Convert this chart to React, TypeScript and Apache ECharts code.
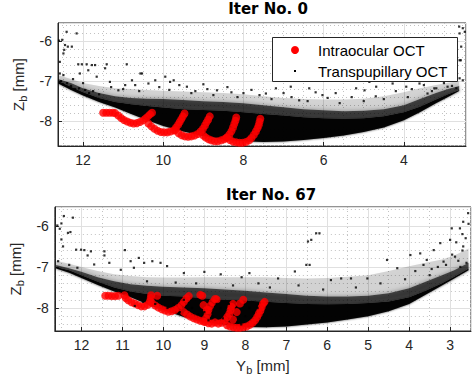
import React, { useEffect, useRef } from 'react';
import * as echarts from 'echarts';

// ---------- Panel 1: Iter No. 0 ----------
// Dense transpupillary cloud, outlined by sample columns (Y_b): lower edge, solid-core top, speckled top, sparse top
const topBandX = [12.62, 12.3, 12.0, 11.6, 11.2, 10.8, 10.4, 10.0, 9.5, 9.0, 8.5, 8.0, 7.5, 7.0, 6.5, 6.0, 5.5, 5.0, 4.5, 4.0, 3.6, 3.2, 2.9, 2.62];
const topBandLow = [-7.06, -7.22, -7.36, -7.52, -7.66, -7.82, -7.98, -8.12, -8.26, -8.37, -8.45, -8.5, -8.52, -8.51, -8.47, -8.42, -8.36, -8.27, -8.16, -7.98, -7.78, -7.55, -7.4, -7.25];
const topBandCore = [-7.0, -7.14, -7.28, -7.42, -7.52, -7.58, -7.62, -7.66, -7.7, -7.72, -7.74, -7.78, -7.82, -7.86, -7.9, -7.93, -7.94, -7.93, -7.88, -7.78, -7.64, -7.46, -7.33, -7.22];
const topBandMid = [-6.95, -7.05, -7.18, -7.3, -7.38, -7.42, -7.44, -7.45, -7.47, -7.5, -7.52, -7.55, -7.6, -7.65, -7.7, -7.73, -7.75, -7.74, -7.7, -7.6, -7.45, -7.3, -7.2, -7.12];
const topBandTop = [-6.85, -6.95, -7.05, -7.12, -7.18, -7.2, -7.22, -7.24, -7.26, -7.28, -7.3, -7.33, -7.38, -7.42, -7.45, -7.46, -7.46, -7.44, -7.38, -7.28, -7.18, -7.1, -7.04, -7.0];
const topTranspupillary = [
  [12.41, -5.77], [12.16, -5.81], [12.6, -5.99], [12.52, -5.97], [12.45, -6.1], [12.38, -6.14], [12.28, -6.14],
  [12.47, -6.22], [12.49, -6.31], [12.58, -6.52], [12.12, -6.58], [12.03, -6.58], [11.91, -6.58], [11.78, -6.6],
  [11.7, -6.6], [11.45, -6.68], [11.41, -6.58], [10.91, -6.58], [11.87, -6.73], [12.58, -6.81], [12.49, -6.85],
  [12.08, -6.81], [11.66, -6.89], [11.33, -7.02], [10.95, -7.1], [10.78, -6.98], [10.53, -6.81], [10.37, -7.06],
  [10.2, -6.98], [9.95, -6.89], [9.83, -7.02], [10.7, -7.1], [11.12, -7.23], [10.57, -6.81], [9.74, -6.98],
  [9.41, -7.14], [8.66, -7.23], [7.19, -7.18], [6.82, -7.14], [6.36, -7.18], [6.03, -7.35], [5.53, -6.98],
  [5.19, -7.18], [4.98, -7.23], [4.86, -7.02], [4.69, -7.14], [4.44, -6.89], [4.28, -7.06], [3.94, -7.14],
  [3.61, -7.06], [3.36, -6.85], [3.19, -7.18], [2.94, -6.89], [2.78, -6.98], [2.69, -7.18], [2.61, -6.48],
  [2.57, -6.14], [2.53, -5.68], [2.48, -5.77], [2.61, -5.81], [2.61, -6.93], [7.44, -7.31], [6.61, -7.48],
  [2.62, -5.64], [2.58, -6.48], [2.53, -6.98], [2.91, -7.14], [3.24, -7.18], [3.41, -7.31],
  [12.55, -7.0], [12.5, -7.08], [12.4, -7.05], [12.3, -7.12], [12.2, -7.2], [12.1, -7.18], [11.95, -7.22],
  [11.85, -7.3], [11.75, -7.25], [11.6, -7.33], [9.2, -7.25], [8.9, -7.2], [8.3, -7.28], [8.0, -7.3],
  [7.8, -7.22], [7.6, -7.35], [5.9, -7.42], [5.7, -7.3], [5.3, -7.4], [4.7, -7.38], [4.2, -7.25],
  [3.8, -7.2], [3.5, -7.1], [3.0, -7.05], [9.6, -7.1], [9.0, -7.08], [8.4, -7.15], [7.0, -7.3], [6.2, -7.28],
  [11.3, -7.15], [11.0, -7.2], [10.1, -7.15], [12.25, -6.95], [12.0, -7.05],
  [10.6, -7.25], [9.85, -7.22], [9.3, -7.3], [8.75, -7.35], [8.15, -7.4], [7.3, -7.45], [6.8, -7.4], [6.4, -7.5],
  [5.6, -7.55], [5.0, -7.5], [4.5, -7.45], [3.9, -7.4], [3.3, -7.25], [2.8, -7.12]
];
const topIntraocular = [
  [11.5, -7.79], [11.42, -7.79], [11.34, -7.79], [11.26, -7.79], [11.2, -7.8], [11.12, -7.86], [11.05, -7.92],
  [10.98, -7.97], [10.9, -8.01], [10.82, -8.04], [10.74, -8.06], [10.66, -8.05], [10.58, -8.02], [10.5, -7.98],
  [10.44, -7.93], [10.38, -7.88], [10.33, -7.83], [10.28, -7.79],
  [10.37, -8.06], [10.3, -8.13], [10.22, -8.19], [10.14, -8.24], [10.06, -8.27], [9.98, -8.28], [9.9, -8.28],
  [9.82, -8.26], [9.74, -8.23], [9.68, -8.16], [9.63, -8.09], [9.59, -8.02], [9.55, -7.95], [9.51, -7.88], [9.47, -7.81],
  [9.7, -8.23], [9.62, -8.3], [9.54, -8.35], [9.46, -8.38], [9.38, -8.39], [9.3, -8.38], [9.22, -8.36],
  [9.14, -8.32], [9.07, -8.26], [9.01, -8.19], [8.96, -8.11], [8.92, -8.03], [8.88, -7.96], [8.84, -7.88],
  [9.0, -8.36], [8.94, -8.41], [8.87, -8.45], [8.8, -8.48], [8.72, -8.5], [8.64, -8.5], [8.56, -8.48],
  [8.48, -8.45], [8.41, -8.4], [8.35, -8.33], [8.3, -8.25], [8.26, -8.16], [8.23, -8.07], [8.2, -7.99], [8.18, -7.91],
  [8.42, -8.42], [8.34, -8.47], [8.26, -8.51], [8.18, -8.53], [8.1, -8.54], [8.02, -8.54], [7.94, -8.52],
  [7.86, -8.48], [7.8, -8.42], [7.74, -8.34], [7.69, -8.26], [7.65, -8.18], [7.62, -8.1], [7.6, -8.02], [7.58, -7.94]
];

// ---------- Panel 2: Iter No. 67 ----------
const botBandX = [12.62, 12.3, 12.0, 11.6, 11.2, 10.8, 10.4, 10.0, 9.5, 9.0, 8.5, 8.0, 7.5, 7.0, 6.5, 6.0, 5.5, 5.0, 4.5, 4.0, 3.6, 3.2, 2.9, 2.55];
const botBandLow = [-7.04, -7.14, -7.27, -7.44, -7.6, -7.74, -7.9, -8.05, -8.22, -8.34, -8.41, -8.46, -8.47, -8.45, -8.4, -8.35, -8.28, -8.2, -8.08, -7.9, -7.68, -7.45, -7.28, -7.08];
const botBandCore = [-7.0, -7.08, -7.2, -7.36, -7.5, -7.6, -7.66, -7.7, -7.72, -7.76, -7.8, -7.82, -7.85, -7.88, -7.9, -7.91, -7.9, -7.88, -7.84, -7.74, -7.58, -7.4, -7.24, -7.04];
const botBandMid = [-6.95, -7.03, -7.12, -7.25, -7.35, -7.42, -7.46, -7.48, -7.5, -7.52, -7.55, -7.58, -7.62, -7.66, -7.7, -7.72, -7.72, -7.7, -7.64, -7.52, -7.36, -7.2, -7.08, -6.9];
const botBandTop = [-6.85, -6.92, -7.0, -7.1, -7.18, -7.22, -7.25, -7.26, -7.26, -7.25, -7.25, -7.25, -7.25, -7.27, -7.28, -7.27, -7.24, -7.2, -7.1, -6.98, -6.9, -6.82, -6.72, -6.55];
const botTranspupillary = [
  [12.43, -5.76], [12.21, -5.8], [12.59, -5.99], [12.49, -5.94], [12.53, -6.07], [12.33, -6.17], [12.27, -6.15],
  [12.49, -6.33], [12.45, -6.5], [12.13, -6.58], [12.01, -6.58], [11.93, -6.59], [11.77, -6.62], [11.44, -6.62],
  [11.44, -6.72], [10.94, -6.59], [11.85, -6.72], [12.57, -6.86], [11.32, -6.9], [10.8, -6.86], [10.6, -6.78],
  [10.47, -6.9], [10.27, -6.86], [10.07, -6.9], [9.91, -6.98], [11.04, -7.07], [10.72, -7.02], [11.69, -6.94],
  [6.47, -6.38], [6.39, -6.34], [6.27, -6.18], [6.19, -6.18], [6.51, -6.95], [6.43, -6.95], [6.79, -7.11],
  [5.91, -7.32], [5.66, -7.28], [5.42, -7.28], [5.02, -7.28], [4.54, -6.83], [4.29, -7.03], [3.97, -6.71],
  [3.73, -6.67], [3.57, -6.83], [3.4, -6.59], [3.16, -6.87], [3.0, -6.34], [2.96, -6.06], [2.76, -6.06],
  [2.68, -5.9], [2.56, -5.69], [2.48, -5.73], [2.68, -6.5], [2.88, -6.75], [3.24, -6.42], [7.2, -7.28],
  [7.68, -7.4], [8.09, -7.25], [3.3, -7.0], [3.1, -6.95], [2.95, -6.7], [2.8, -6.85], [2.7, -6.6],
  [2.62, -6.3], [2.85, -6.4], [3.45, -7.05], [3.65, -6.95], [3.85, -7.1], [2.75, -7.0], [2.6, -6.9],
  [2.55, -5.95], [2.7, -6.2], [9.5, -7.15], [9.0, -7.12], [8.6, -7.18], [7.9, -7.15], [12.3, -6.95], [12.1, -7.02],
  [10.4, -7.35], [9.7, -7.38], [9.2, -7.4], [8.3, -7.45], [7.4, -7.5], [6.7, -7.45], [6.1, -7.55], [5.3, -7.5],
  [4.7, -7.4], [4.1, -7.3], [3.5, -7.2],
  [9.9, -8.0], [9.6, -8.1], [9.3, -8.0], [9.0, -8.1], [8.8, -8.2], [8.6, -8.0], [8.4, -7.9], [8.0, -8.2],
  [7.8, -8.1], [10.5, -7.85], [10.2, -7.9], [9.5, -7.8], [8.9, -8.3], [8.2, -8.35], [7.9, -8.0],
  [10.7, -7.95], [9.75, -7.9], [9.15, -8.15], [8.55, -8.25], [8.7, -7.9], [8.1, -8.4], [7.7, -8.0]
];
const botIntraocular = [
  [11.42, -7.7], [11.34, -7.7], [11.26, -7.71], [11.18, -7.71], [11.1, -7.7], [10.95, -7.69],
  [10.92, -7.76], [10.86, -7.81], [10.78, -7.86], [10.7, -7.89], [10.62, -7.93], [10.54, -7.96], [10.46, -7.96],
  [10.38, -7.92], [10.33, -7.84], [10.31, -7.76], [10.3, -7.69],
  [10.28, -7.88], [10.2, -7.94], [10.12, -7.99], [10.04, -8.03], [9.96, -8.06], [9.88, -8.09], [9.8, -8.08],
  [9.72, -8.05], [9.64, -8.0], [9.56, -7.93], [9.5, -7.85], [9.44, -7.77], [9.38, -7.71],
  [9.5, -8.1], [9.42, -8.16], [9.34, -8.21], [9.26, -8.25], [9.18, -8.28], [9.1, -8.31], [9.02, -8.33],
  [8.96, -8.25], [8.92, -8.15], [8.9, -8.05], [8.86, -7.95], [8.8, -7.86], [8.74, -7.78],
  [8.98, -8.34], [8.9, -8.37], [8.82, -8.38], [8.74, -8.35], [8.66, -8.38], [8.58, -8.36], [8.5, -8.3],
  [8.44, -8.22], [8.39, -8.14], [8.36, -8.05], [8.34, -7.97], [8.3, -7.9],
  [8.45, -8.42], [8.37, -8.45], [8.29, -8.47], [8.21, -8.48], [8.13, -8.48], [8.05, -8.47], [7.97, -8.45],
  [7.89, -8.41], [7.82, -8.36], [7.76, -8.3], [7.71, -8.22], [7.67, -8.14], [7.63, -8.06], [7.6, -7.98], [7.57, -7.9],
  [10.15, -7.7], [9.1, -7.68], [9.05, -7.7], [8.7, -7.79], [8.05, -7.8], [7.53, -7.85], [8.13, -7.89],
  [8.21, -8.1], [8.3, -8.28], [9.02, -7.93], [8.94, -8.05]
];

const titles = ['Iter No. 0', 'Iter No. 67'];
const seriesNames = ['Intraocular OCT', 'Transpupillary OCT'];

const AX = '#262626';
const SANS = '"Liberation Sans", Arial, sans-serif';

function bandSeries(gi: number, xs: number[], upper: number[], lower: number[], opacity: number, blur: number, z: number) {
  return {
    type: 'custom',
    xAxisIndex: gi,
    yAxisIndex: gi,
    clip: true,
    silent: true,
    z,
    data: [[xs[0], lower[0]]],
    renderItem: (_p: any, api: any) => {
      const pts: number[][] = [];
      for (let i = 0; i < xs.length; i++) pts.push(api.coord([xs[i], upper[i]]));
      for (let i = xs.length - 1; i >= 0; i--) pts.push(api.coord([xs[i], lower[i]]));
      const style: any = { fill: `rgba(0,0,0,${opacity})` };
      if (blur > 0) {
        style.shadowBlur = blur;
        style.shadowColor = `rgba(0,0,0,${opacity * 0.8})`;
      }
      return { type: 'polygon', shape: { points: pts }, style };
    },
  };
}

function xAxisOpt(gi: number, min: number, max: number, splitNumber: number, minorSplit: number, withName: boolean) {
  return {
    type: 'value',
    gridIndex: gi,
    min,
    max,
    inverse: true,
    splitNumber,
    name: withName ? '{n|Y}{s|b}{n| [mm]}' : '',
    nameLocation: 'middle',
    nameGap: 24,
    nameTextStyle: {
      rich: {
        n: { fontSize: 15, fontFamily: SANS, color: AX },
        s: { fontSize: 11, fontFamily: SANS, color: AX, padding: [9, 0, 0, 0] },
      },
    },
    axisLine: { show: true, onZero: false, lineStyle: { color: AX, width: 1 } },
    axisTick: { show: true, inside: true, length: 4, lineStyle: { color: AX } },
    axisLabel: { color: AX, fontSize: 14, fontFamily: SANS, margin: 7, showMinLabel: false, showMaxLabel: false },
    splitLine: { show: true, lineStyle: { color: '#e0e0e0', width: 1 } },
    minorTick: { show: false, splitNumber: minorSplit },
    minorSplitLine: { show: true, lineStyle: { color: '#c2c2c2', width: 1, type: [1, 3] } },
  };
}

function yAxisOpt(gi: number, min: number, max: number) {
  return {
    type: 'value',
    gridIndex: gi,
    min,
    max,
    splitNumber: 3,
    name: '{n|Z}{s|b}{n| [mm]}',
    nameLocation: 'middle',
    nameRotate: 90,
    nameGap: 25,
    nameTextStyle: {
      rich: {
        n: { fontSize: 15, fontFamily: SANS, color: AX },
        s: { fontSize: 11, fontFamily: SANS, color: AX, padding: [9, 0, 0, 0] },
      },
    },
    axisLine: { show: true, onZero: false, lineStyle: { color: AX, width: 1 } },
    axisTick: { show: true, inside: true, length: 4, lineStyle: { color: AX } },
    axisLabel: { color: AX, fontSize: 14, fontFamily: SANS, margin: 6, showMinLabel: false, showMaxLabel: false },
    splitLine: { show: true, lineStyle: { color: '#e0e0e0', width: 1 } },
    minorTick: { show: false, splitNumber: 5 },
    minorSplitLine: { show: true, lineStyle: { color: '#c2c2c2', width: 1, type: [1, 3] } },
  };
}

function buildOption() {
  const titleStyle = { fontFamily: '"DejaVu Sans", sans-serif', fontWeight: 'bold', fontSize: 15, color: '#000' };
  return {
    animation: false,
    backgroundColor: '#ffffff',
    title: [
      { text: titles[0], left: 268, top: 1, textAlign: 'center', padding: 0, textStyle: titleStyle },
      { text: titles[1], left: 271, top: 187, textAlign: 'center', padding: 0, textStyle: titleStyle },
    ],
    grid: [
      { left: 58, top: 23, width: 408, height: 123, show: true, borderColor: AX, borderWidth: 1, backgroundColor: 'transparent', containLabel: false },
      { left: 50, top: 207, width: 421, height: 124, show: true, borderColor: AX, borderWidth: 1, backgroundColor: 'transparent', containLabel: false },
    ],
    xAxis: [
      xAxisOpt(0, 2.45, 12.625, 5, 4, false),
      xAxisOpt(1, 2.49, 12.65, 10, 2, true),
    ],
    yAxis: [
      yAxisOpt(0, -8.62, -5.55),
      yAxisOpt(1, -8.56, -5.54),
    ],
    series: [
      bandSeries(0, topBandX, topBandTop, topBandMid, 0.16, 6, 1),
      bandSeries(0, topBandX, topBandMid, topBandCore, 0.68, 5, 1),
      bandSeries(0, topBandX, topBandCore, topBandLow, 0.96, 2, 2),
      { name: seriesNames[1], type: 'scatter', xAxisIndex: 0, yAxisIndex: 0, data: topTranspupillary, symbol: 'rect', symbolSize: 2.2, itemStyle: { color: '#000' }, z: 3, silent: true },
      { name: seriesNames[0], type: 'scatter', xAxisIndex: 0, yAxisIndex: 0, data: topIntraocular, symbol: 'circle', symbolSize: 8, itemStyle: { color: '#ff0000' }, z: 4, silent: true },
      bandSeries(1, botBandX, botBandTop, botBandMid, 0.16, 6, 1),
      bandSeries(1, botBandX, botBandMid, botBandCore, 0.68, 5, 1),
      bandSeries(1, botBandX, botBandCore, botBandLow, 0.96, 2, 2),
      { name: seriesNames[0], type: 'scatter', xAxisIndex: 1, yAxisIndex: 1, data: botIntraocular, symbol: 'circle', symbolSize: 8, itemStyle: { color: '#ff0000' }, z: 3, silent: true },
      { name: seriesNames[1], type: 'scatter', xAxisIndex: 1, yAxisIndex: 1, data: botTranspupillary, symbol: 'rect', symbolSize: 2.2, itemStyle: { color: '#000' }, z: 4, silent: true },
    ],
    graphic: [
      { type: 'rect', z: 100, shape: { x: 272.5, y: 37.5, width: 185, height: 44 }, style: { fill: '#fff', stroke: AX, lineWidth: 1 } },
      { type: 'circle', z: 101, shape: { cx: 295, cy: 50, r: 4 }, style: { fill: '#ff0000' } },
      { type: 'text', z: 101, x: 318, y: 50, style: { text: seriesNames[0], font: '15px "Liberation Sans", Arial, sans-serif', fill: '#000', verticalAlign: 'middle', align: 'left' } },
      { type: 'rect', z: 101, shape: { x: 294, y: 70, width: 2, height: 2 }, style: { fill: '#000' } },
      { type: 'text', z: 101, x: 318, y: 71, style: { text: seriesNames[1], font: '15px "Liberation Sans", Arial, sans-serif', fill: '#000', verticalAlign: 'middle', align: 'left' } },
    ],
  };
}

export default function App() {
  const ref = useRef<HTMLDivElement>(null);
  useEffect(() => {
    document.body.style.margin = '0';
    const chart = echarts.init(ref.current as HTMLDivElement, null, { renderer: 'svg' });
    chart.setOption(buildOption() as any);
    return () => chart.dispose();
  }, []);
  return <div ref={ref} style={{ position: 'absolute', left: 0, top: 0, width: 472, height: 381 }} />;
}
